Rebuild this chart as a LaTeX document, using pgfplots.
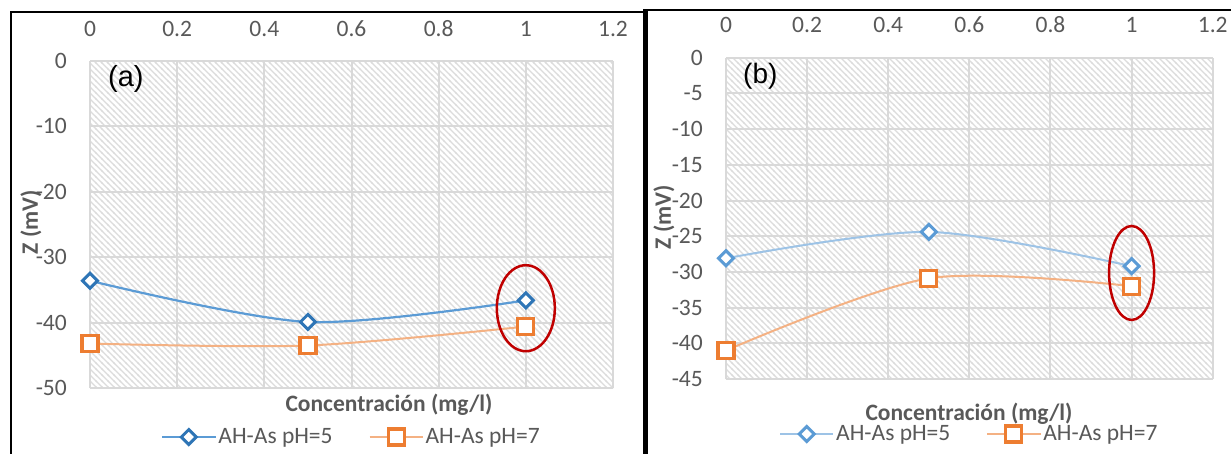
\documentclass[border=0pt]{standalone}
\usepackage{fontspec}
\setmainfont{Carlito}
\newfontfamily\arialfont{Liberation Sans}
\usepackage{pgfplots}
\pgfplotsset{compat=1.18}
\usetikzlibrary{patterns}
\definecolor{txt}{HTML}{595959}
\definecolor{grd}{HTML}{D9D9D9}
\definecolor{hatchc}{HTML}{DCDCDC}
\definecolor{bA}{HTML}{5B9BD5}
\definecolor{bAm}{HTML}{2E75B6}
\definecolor{bB}{HTML}{9DC3E6}
\definecolor{bBm}{HTML}{5B9BD5}
\definecolor{oL}{HTML}{F4B183}
\definecolor{oM}{HTML}{ED7D31}
\definecolor{ell}{HTML}{C00000}
\newcommand\tfont{\fontsize{23.5}{27}\selectfont}

\pgfdeclarepatternformonly{excel}{\pgfqpoint{-1pt}{-1pt}}{\pgfqpoint{7pt}{7pt}}{\pgfqpoint{6pt}{6pt}}{%
 \pgfsetlinewidth{1.2pt}%
 \pgfpathmoveto{\pgfqpoint{-1pt}{7pt}}\pgfpathlineto{\pgfqpoint{7pt}{-1pt}}%
 \pgfusepath{stroke}}

\pgfplotsset{
 zstyle/.style={
  scale only axis, clip=false,
  xmin=0, xmax=1.2,
  xtick={0,0.2,0.4,0.6,0.8,1,1.2},
  xticklabels={0,0.2,0.4,0.6,0.8,1,1.2},
  xticklabel pos=top,
  axis line style={draw=none},
  major tick length=0pt,
  grid=major,
  major grid style={draw=grd, line width=2pt},
  axis background/.style={pattern=excel, pattern color=hatchc},
  tick label style={font=\tfont, text=txt, inner sep=0pt},
  xticklabel style={anchor=base, yshift=25pt},
  yticklabel style={anchor=east, xshift=-23pt},
  legend columns=2,
  legend style={draw=none, fill=none, font=\tfont, text=txt,
    /tikz/every even column/.append style={column sep=34pt}},
  legend image code/.code={\draw[mark repeat=2,mark phase=2,##1] plot coordinates {(0pt,0pt) (26.5pt,0pt) (53pt,0pt)};},
 }
}

\begin{document}
\begin{tikzpicture}[x=1pt,y=1pt]
\useasboundingbox (0,0) rectangle (1231,453);
\fill[white] (0,0) rectangle (1231,453);

% ---------------- panel (a)
\begin{axis}[zstyle, at={(90pt,65pt)}, anchor=south west,
  width=523pt, height=327pt,
  ymin=-50, ymax=0,
  ytick={-50,-40,-30,-20,-10,0},
  yticklabels={-50,-40,-30,-20,-10,0},
  legend style={at={(0.5,0)}, anchor=center, yshift=-49pt}]
\addplot[smooth, color=bA, line width=2.2pt, mark=square*, mark size=5.3pt,
  mark options={rotate=45, fill=white, draw=bAm, line width=3pt}]
  coordinates {(0,-33.6) (0.5,-39.9) (1,-36.6)};
\addlegendentry{AH-As pH=5}
\addplot[smooth, color=oL, line width=2pt, mark=square*, mark size=8pt,
  mark options={fill=white, draw=oM, line width=3.2pt}]
  coordinates {(0,-43.2) (0.5,-43.5) (1,-40.6)};
\addlegendentry{AH-As pH=7}
\draw[ell, line width=2.5pt] (axis cs:1,-37.8) ellipse [x radius=29pt, y radius=43pt];
\end{axis}

% ---------------- panel (b)
\begin{axis}[zstyle, at={(726pt,74pt)}, anchor=south west,
  width=486.7pt, height=321.3pt,
  ymin=-45, ymax=0,
  ytick={-45,-40,-35,-30,-25,-20,-15,-10,-5,0},
  yticklabels={-45,-40,-35,-30,-25,-20,-15,-10,-5,0},
  legend style={at={(0.5,0)}, anchor=center, yshift=-55pt}]
\addplot[smooth, color=bB, line width=2pt, mark=square*, mark size=5.3pt,
  mark options={rotate=45, fill=white, draw=bBm, line width=3pt}]
  coordinates {(0,-28.1) (0.5,-24.4) (1,-29.2)};
\addlegendentry{AH-As pH=5}
\addplot[smooth, color=oL, line width=2pt, mark=square*, mark size=8pt,
  mark options={fill=white, draw=oM, line width=3.2pt}]
  coordinates {(0,-41.0) (0.5,-30.9) (1,-32.0)};
\addlegendentry{AH-As pH=7}
\draw[ell, line width=2.5pt] (axis cs:1,-30.15) ellipse [x radius=22.5pt, y radius=47pt];
\end{axis}

% titles and labels
\node[font=\tfont\bfseries, text=txt, anchor=base, inner sep=0pt] at (389,41.3) {Concentración (mg/l)};
\node[font=\tfont\bfseries, text=txt, anchor=base, inner sep=0pt] at (969,33) {Concentración (mg/l)};
\node[font=\tfont\bfseries, text=txt, rotate=90, inner sep=0pt] at (31,231) {Z (mV)};
\node[font=\tfont\bfseries, text=txt, rotate=90, inner sep=0pt] at (664,236) {Z (mV)};
\node[font=\arialfont\fontsize{29}{33}\selectfont, anchor=west, inner sep=0pt] at (108,374) {(a)};
\node[font=\arialfont\fontsize{28}{32}\selectfont, anchor=west, inner sep=0pt] at (743,376.5) {(b)};

% frames
\draw[line width=2pt] (10.5,-10) -- (10.5,440.5) -- (646,440.5);
\draw[line width=2pt] (644,443) -- (1245,443);
\draw[line width=4.5pt] (645.5,-10) -- (645.5,444);
\end{tikzpicture}
\end{document}
